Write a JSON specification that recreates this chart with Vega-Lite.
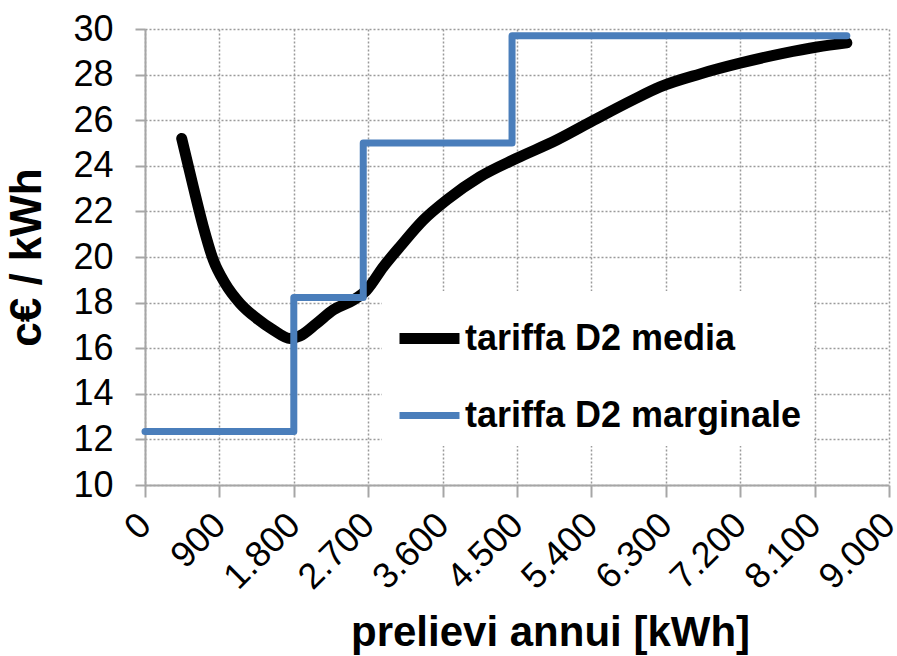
{
  "$schema": "https://vega.github.io/schema/vega-lite/v6.json",
  "width": 744,
  "height": 456,
  "autosize": {"type": "none"},
  "padding": {"left": 145, "top": 29, "right": 8, "bottom": 171},
  "background": "white",
  "config": {
    "view": {"stroke": null},
    "font": "Liberation Sans",
    "axis": {
      "labelColor": "black",
      "titleColor": "black",
      "labelFont": "Liberation Sans",
      "titleFont": "Liberation Sans",
      "grid": true,
      "gridColor": "#9a9a9a",
      "gridDash": [2, 2],
      "gridWidth": 1.5,
      "domainColor": "#a6a6a6",
      "domainWidth": 2,
      "tickColor": "#a6a6a6",
      "tickWidth": 2
    }
  },
  "encoding": {
    "x": {
      "field": "kwh",
      "type": "quantitative",
      "scale": {"domain": [0, 9000], "nice": false},
      "axis": {
        "values": [0, 900, 1800, 2700, 3600, 4500, 5400, 6300, 7200, 8100, 9000],
        "labelExpr": "replace(format(datum.value, ',d'), ',', '.')",
        "labelAngle": -45,
        "labelAlign": "right",
        "labelBaseline": "middle",
        "labelFontSize": 36,
        "labelPadding": 22,
        "labelOverlap": false,
        "tickSize": 12,
        "title": "prelievi annui [kWh]",
        "titleFontSize": 42,
        "titleFontWeight": "bold",
        "titleX": 405,
        "titleY": 160,
        "titleBaseline": "alphabetic",
        "titleAnchor": "middle"
      }
    },
    "y": {
      "field": "valore",
      "type": "quantitative",
      "scale": {"domain": [10, 30], "nice": false, "zero": false},
      "axis": {
        "values": [10, 12, 14, 16, 18, 20, 22, 24, 26, 28, 30],
        "labelFontSize": 36,
        "labelPadding": 22,
        "tickSize": 10,
        "title": "c€ / kWh",
        "titleFontSize": 44,
        "titleFontWeight": "bold",
        "titleX": -118,
        "titleBaseline": "middle"
      }
    },
    "color": {
      "field": "serie",
      "type": "nominal",
      "scale": {"domain": ["tariffa D2 media", "tariffa D2 marginale"], "range": ["#000000", "#4a7ebb"]},
      "legend": {
        "orient": "none",
        "legendX": 237,
        "legendY": 262,
        "title": null,
        "labelFontSize": 36,
        "labelFontWeight": "bold",
        "labelColor": "black",
        "labelFont": "Liberation Sans",
        "labelLimit": 500,
        "symbolType": "stroke",
        "symbolSize": 3600,
        "rowPadding": 21,
        "labelOffset": 0,
        "fillColor": "white",
        "padding": 12
      }
    },
    "strokeWidth": {
      "field": "serie",
      "type": "nominal",
      "scale": {"domain": ["tariffa D2 media", "tariffa D2 marginale"], "range": [11, 7]},
      "legend": {
        "orient": "none",
        "legendX": 237,
        "legendY": 262,
        "title": null,
        "labelFontSize": 36,
        "labelFontWeight": "bold",
        "labelColor": "black",
        "labelFont": "Liberation Sans",
        "labelLimit": 500,
        "symbolType": "stroke",
        "symbolSize": 3600,
        "rowPadding": 21,
        "labelOffset": 0,
        "fillColor": "white",
        "padding": 12
      }
    }
  },
  "layer": [
    {
      "data": {
        "values": [
          {"serie": "tariffa D2 media", "kwh": 444, "valore": 25.2},
          {"serie": "tariffa D2 media", "kwh": 584, "valore": 23.08},
          {"serie": "tariffa D2 media", "kwh": 705, "valore": 21.33},
          {"serie": "tariffa D2 media", "kwh": 826, "valore": 19.87},
          {"serie": "tariffa D2 media", "kwh": 968, "valore": 18.85},
          {"serie": "tariffa D2 media", "kwh": 1149, "valore": 17.97},
          {"serie": "tariffa D2 media", "kwh": 1351, "valore": 17.31},
          {"serie": "tariffa D2 media", "kwh": 1552, "valore": 16.8},
          {"serie": "tariffa D2 media", "kwh": 1754, "valore": 16.43},
          {"serie": "tariffa D2 media", "kwh": 1875, "valore": 16.54},
          {"serie": "tariffa D2 media", "kwh": 2077, "valore": 17.09},
          {"serie": "tariffa D2 media", "kwh": 2278, "valore": 17.68},
          {"serie": "tariffa D2 media", "kwh": 2520, "valore": 18.11},
          {"serie": "tariffa D2 media", "kwh": 2681, "valore": 18.55},
          {"serie": "tariffa D2 media", "kwh": 2883, "valore": 19.57},
          {"serie": "tariffa D2 media", "kwh": 3084, "valore": 20.45},
          {"serie": "tariffa D2 media", "kwh": 3366, "valore": 21.62},
          {"serie": "tariffa D2 media", "kwh": 3649, "valore": 22.5},
          {"serie": "tariffa D2 media", "kwh": 4052, "valore": 23.52},
          {"serie": "tariffa D2 media", "kwh": 4496, "valore": 24.33},
          {"serie": "tariffa D2 media", "kwh": 4980, "valore": 25.13},
          {"serie": "tariffa D2 media", "kwh": 5430, "valore": 26.0},
          {"serie": "tariffa D2 media", "kwh": 5903, "valore": 26.89},
          {"serie": "tariffa D2 media", "kwh": 6230, "valore": 27.46},
          {"serie": "tariffa D2 media", "kwh": 6714, "valore": 28.03},
          {"serie": "tariffa D2 media", "kwh": 7197, "valore": 28.5},
          {"serie": "tariffa D2 media", "kwh": 7718, "valore": 28.93},
          {"serie": "tariffa D2 media", "kwh": 8129, "valore": 29.21},
          {"serie": "tariffa D2 media", "kwh": 8490, "valore": 29.39}
        ]
      },
      "mark": {"type": "line", "interpolate": "monotone", "strokeCap": "round", "strokeJoin": "round"}
    },
    {
      "data": {
        "values": [
          {"serie": "tariffa D2 marginale", "kwh": 0, "valore": 12.35},
          {"serie": "tariffa D2 marginale", "kwh": 1800, "valore": 18.22},
          {"serie": "tariffa D2 marginale", "kwh": 2640, "valore": 25.0},
          {"serie": "tariffa D2 marginale", "kwh": 4440, "valore": 29.7},
          {"serie": "tariffa D2 marginale", "kwh": 8490, "valore": 29.7}
        ]
      },
      "mark": {"type": "line", "interpolate": "step-after", "strokeCap": "round", "strokeJoin": "round"}
    }
  ]
}
